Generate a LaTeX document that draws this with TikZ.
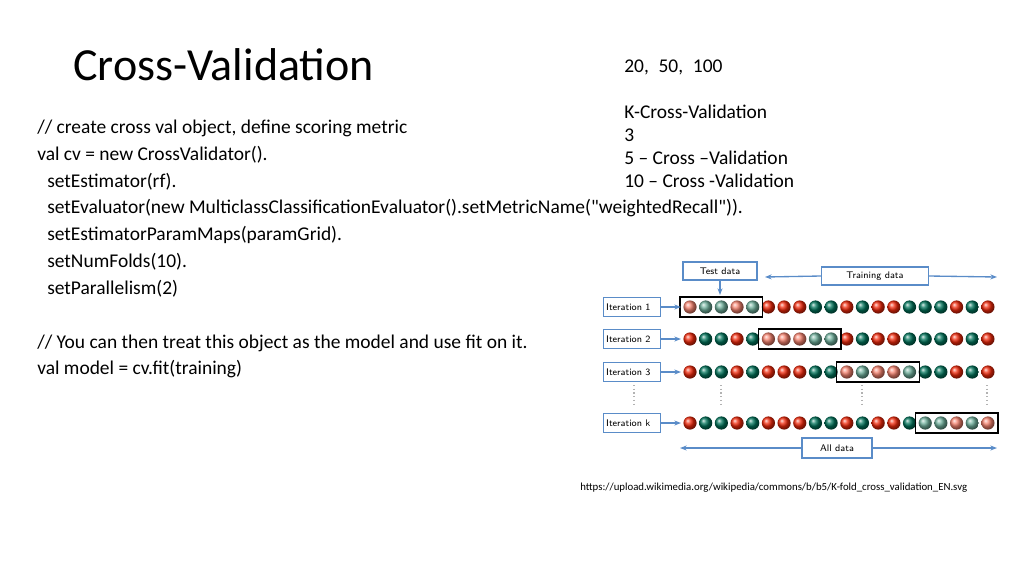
\documentclass[tikz,border=0pt]{standalone}
\usepackage{fontspec}
\setmainfont{Carlito}
\newfontfamily\codefont{Carlito}
\usetikzlibrary{positioning,arrows.meta}
\definecolor{ballred}{RGB}{240,40,10}
\definecolor{ballgreen}{RGB}{0,115,90}
\definecolor{lightred}{RGB}{245,130,110}
\definecolor{lightgreen}{RGB}{110,175,155}
\definecolor{boxblue}{RGB}{90,140,200}
\newcommand{\foldpattern}{1/0,2/1,3/1,4/0,5/1,6/0,7/0,8/0,9/1,10/1,11/0,12/1,13/0,14/0,15/1,16/1,17/1,18/0,19/1,20/0}

\begin{document}
\begin{tikzpicture}[x=0.75pt,y=-0.75pt,
    codeline/.style={anchor=base west,inner sep=0pt,font=\codefont\fontsize{14.6}{17}\selectfont},
    labelbox/.style={draw=boxblue,line width=1pt,inner sep=0pt,font=\sffamily\fontsize{7.2}{8}\selectfont},
    blue arrow/.style={-{Stealth[length=5pt]},draw=boxblue,line width=1pt},
    foldbox/.style={draw=black,line width=1pt}]
  \useasboundingbox (0,0) rectangle (1024,576);

  \node[anchor=base west,inner sep=0pt,font=\fontsize{34.5}{40}\selectfont] (title) at (73,80) {Cross-Validation};

  % code
  \node[codeline] (c1) at (37,133) {// create cross val object, define scoring metric};
  \node[codeline] (c2) at (37,160) {val cv = new CrossValidator().};
  \node[codeline] (c3) at (47,187) {setEstimator(rf).};
  \node[codeline] (c4) at (47,213) {setEvaluator(new MulticlassClassificationEvaluator().setMetricName("weightedRecall")).};
  \node[codeline] (c5) at (47,240) {setEstimatorParamMaps(paramGrid).};
  \node[codeline] (c6) at (47,267) {setNumFolds(10).};
  \node[codeline] (c7) at (47,294) {setParallelism(2)};
  \node[codeline] (c8) at (37,348) {// You can then treat this object as the model and use fit on it.};
  \node[codeline] (c9) at (37,374) {val model = cv.fit(training)};

  % notes
  \node[codeline] (n1) at (624,72) {20,\enspace 50,\enspace 100};
  \node[codeline] (n2) at (624,118) {K-Cross-Validation};
  \node[codeline] (n3) at (624,141) {3};
  \node[codeline] (n4) at (624,164) {5 – Cross –Validation};
  \node[codeline] (n5) at (624,187) {10 – Cross -Validation};

  % folds
  \foreach \row/\y/\first in {1/307/1,2/339/6,3/372/11,4/423/16}{
    \foreach \i/\g in \foldpattern{
      \pgfmathtruncatemacro{\inside}{(\i>=\first)&&(\i<\first+5)}
      \ifnum\inside=1
        \ifnum\g=1 \def\bc{lightgreen}\else\def\bc{lightred}\fi
      \else
        \ifnum\g=1 \def\bc{ballgreen}\else\def\bc{ballred}\fi
      \fi
      \shade[ball color=\bc] ({690+15.68*(\i-1)},\y) circle (6.6);
    }
    \coordinate (fs\row) at ({690+15.68*(\first-1)-10},{\y-10});
    \coordinate (fe\row) at ({690+15.68*(\first+3)+10},{\y+10});
    \draw[foldbox] (fs\row) rectangle (fe\row);
  }
  \foreach \row/\y/\txt in {1/307/1,2/339/2,3/372/3,4/423/k}{
    \node[labelbox,minimum width=57*0.75pt,minimum height=19*0.75pt,anchor=west,
          align=left,text width=52*0.75pt] (it\row) at (603,\y) {Iteration \txt};
    \coordinate (ia\row) at (681,\y);
    \draw[blue arrow] (it\row.east) -- (ia\row);
  }

  \node[labelbox,minimum width=74*0.75pt,minimum height=18*0.75pt] (test) at (720,271) {Test data};
  \coordinate (testend) at (720,295);
  \draw[blue arrow] (test.south) -- (testend);

  \node[labelbox,minimum width=107*0.75pt,minimum height=18*0.75pt] (train) at (875,276) {Training data};
  \coordinate (trainl) at (765,277);
  \coordinate (trainr) at (997,277);
  \draw[blue arrow] (train.west) -- (trainl);
  \draw[blue arrow] (train.east) -- (trainr);

  \node[labelbox,minimum width=70*0.75pt,minimum height=20*0.75pt] (all) at (837,448) {All data};
  \coordinate (alll) at (680,448);
  \coordinate (allr) at (997,448);
  \draw[blue arrow] (all.west) -- (alll);
  \draw[blue arrow] (all.east) -- (allr);

  \foreach \x in {634,721,862,987}
    \draw[gray!60,dotted,line width=0.8pt] (\x,385) -- (\x,406);

  \node[anchor=base west,inner sep=0pt,font=\fontsize{8.1}{9}\selectfont] (url) at (580,490)
    {https://upload.wikimedia.org/wikipedia/commons/b/b5/K-fold\_cross\_validation\_EN.svg};
\end{tikzpicture}
\end{document}
